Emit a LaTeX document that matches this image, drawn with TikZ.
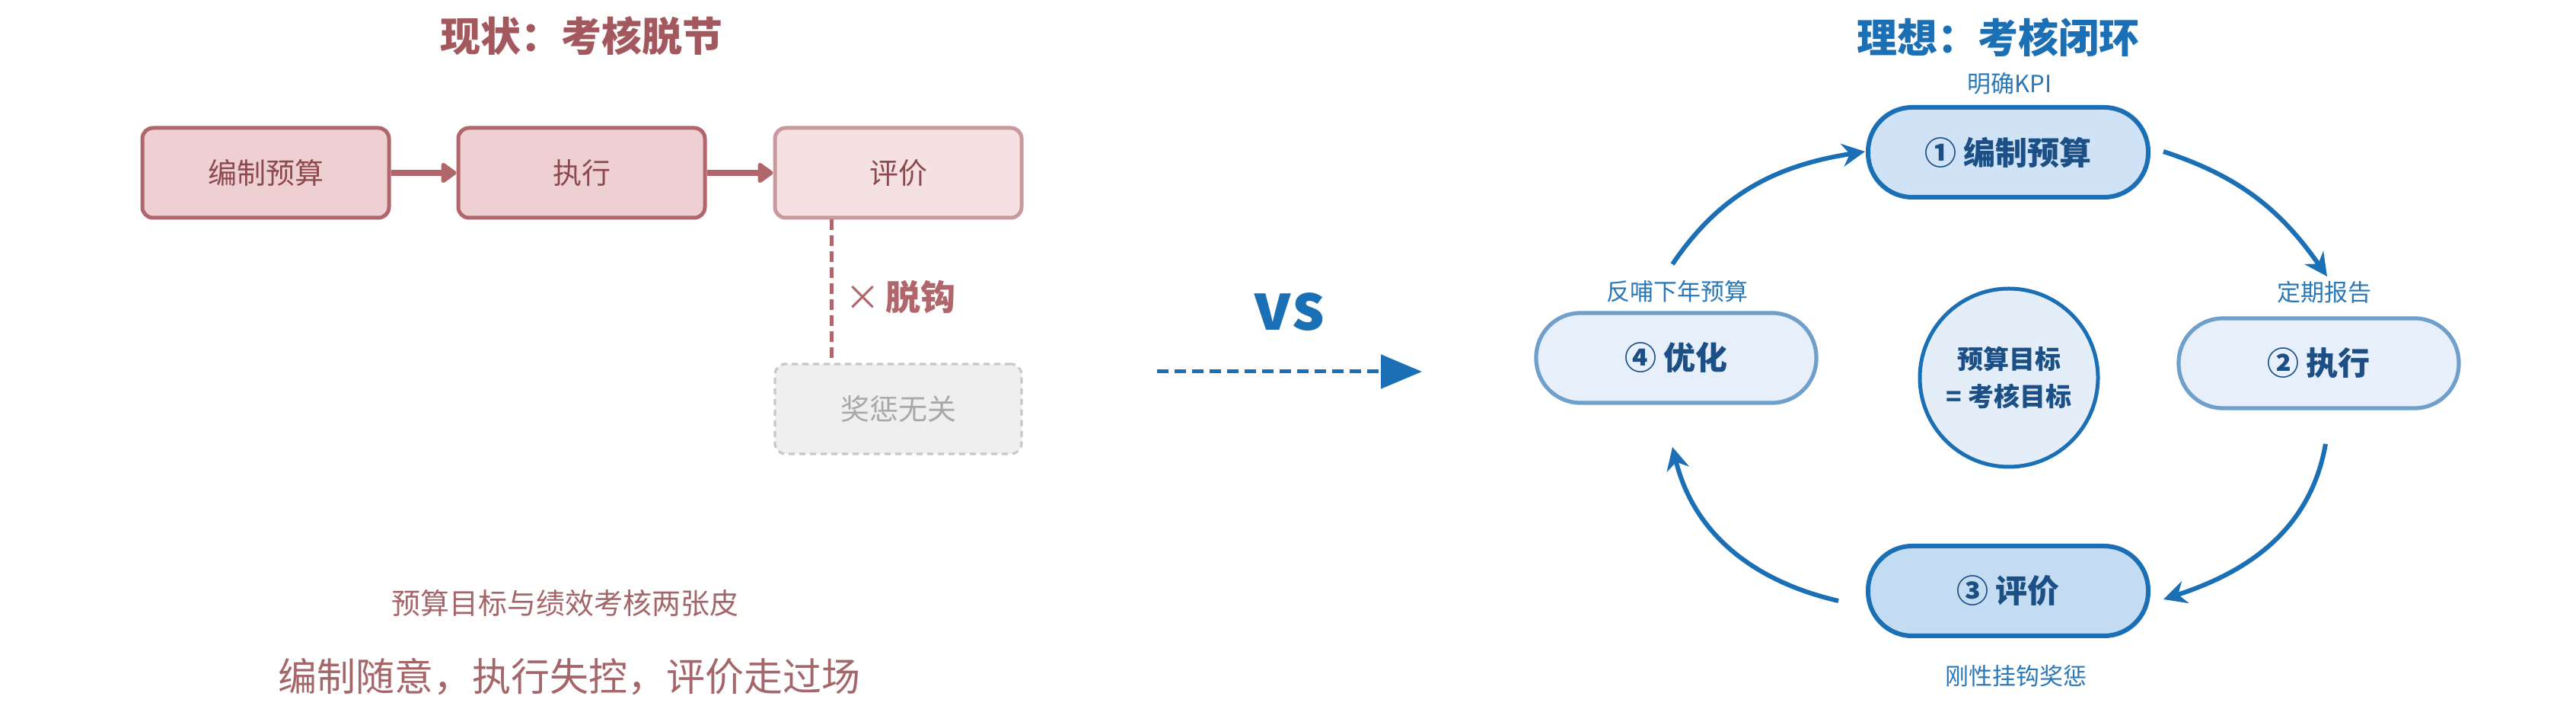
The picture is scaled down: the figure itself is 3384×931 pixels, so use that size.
\documentclass[tikz,border=0pt]{standalone}
\usepackage{fontspec}
\setmainfont{Noto Sans CJK SC}
\usetikzlibrary{arrows.meta,calc}
\definecolor{roseD}{HTML}{B0666B}
\definecolor{roseF}{HTML}{EFD0D2}
\definecolor{roseL}{HTML}{C99A9D}
\definecolor{roseLF}{HTML}{F6E1E2}
\definecolor{roseT}{HTML}{8C4A4F}
\definecolor{roseTitle}{HTML}{A3585D}
\definecolor{roseSub}{HTML}{A5666A}
\definecolor{grayF}{HTML}{EFEFEF}
\definecolor{grayB}{HTML}{C8C8C8}
\definecolor{grayT}{HTML}{A8A8A8}
\definecolor{blueM}{HTML}{1A6FB5}
\definecolor{blueL}{HTML}{6FA0CC}
\definecolor{fillA}{HTML}{D0E2F5}
\definecolor{fillB}{HTML}{E7EFFA}
\definecolor{fillC}{HTML}{C4DCF1}
\definecolor{circF}{HTML}{E4EEF9}
\definecolor{navy}{HTML}{1B4F85}
\definecolor{lblue}{HTML}{2A78B8}
\begin{document}
\begin{tikzpicture}[x=0.5pt,y=0.5pt,
  lbox/.style={draw=roseD, fill=roseF, line width=2.5pt, rounded corners=7pt,
    minimum width=162pt, minimum height=59pt, inner sep=0pt, text=roseT,
    font=\fontsize{19}{23}\selectfont},
  pill/.style={rounded corners=29pt, minimum width=184pt, minimum height=59pt,
    inner sep=0pt, text=navy, font=\bfseries\fontsize{21}{25}\selectfont},
  strongpill/.style={pill, draw=blueM, line width=3pt},
  softpill/.style={pill, draw=blueL, line width=2.6pt, fill=fillB},
  larrow/.style={draw=roseD, line width=4pt, -{Triangle[length=11pt,width=15pt,round]}},
  carrow/.style={draw=blueM, line width=3pt, -{Stealth[length=15pt,width=15pt]}},
  smalllbl/.style={text=lblue, font=\fontsize{15.5}{18}\selectfont},
  titlefont/.style={font=\bfseries\fontsize{26.5}{30}\selectfont}
]
\useasboundingbox (0,0) rectangle (3384,931);
\fill[white] (0,0) rectangle (3384,931);

% ---------- left: current state ----------
\node[titlefont, text=roseTitle] (t1) at (764,884) {现状：考核脱节};
\node[lbox] (b1) at (349,704) {编制预算};
\node[lbox] (b2) at (764,704) {执行};
\node[lbox, fill=roseLF, draw=roseL] (b3) at (1180,704) {评价};
\node[lbox, fill=grayF, draw=grayB, line width=1.6pt, dash pattern=on 4pt off 3pt, text=grayT] (b4) at (1180,394) {奖惩无关};
\draw[larrow] (b1) -- (b2);
\draw[larrow] (b2) -- (b3);
\coordinate (d1) at ([xshift=-44pt]b3.south);
\coordinate (d2) at ([xshift=-44pt]b4.north);
\draw[roseD, line width=2.5pt, dash pattern=on 7pt off 3.5pt] (d1) -- (d2);
\node[anchor=west, text=roseD, font=\fontsize{23}{27}\selectfont] (tg) at (1103,541) {×\,\textbf{脱钩}};
\node[text=roseSub, font=\fontsize{19}{23}\selectfont] (s1) at (742,139) {预算目标与绩效考核两张皮};
\node[text=roseSub, font=\fontsize{25.5}{30}\selectfont] (s2) at (748,42) {编制随意，执行失控，评价走过场};

% ---------- middle ----------
\node[text=blueM, font=\bfseries\fontsize{42}{46}\selectfont] (vs) at (1693,521) {vs};
\coordinate (va) at (1520,443);
\coordinate (vb) at (1868,443);
\draw[blueM, line width=2.5pt, dash pattern=on 7.5pt off 4pt, -{Triangle[length=27pt,width=22pt]}] (va) -- (vb);

% ---------- right: ideal ----------
\node[titlefont, text=blueM] (t2) at (2625,882) {理想：考核闭环};
\node[strongpill, fill=fillA] (n1) at (2638,731) {① 编制预算};
\node[softpill] (n2) at (3046,454) {② 执行};
\node[strongpill, fill=fillC] (n3) at (2638,155) {③ 评价};
\node[softpill] (n4) at (2202,461) {④ 优化};
\node[circle, draw=blueM, fill=circF, line width=2.5pt, minimum size=117pt, inner sep=0pt,
      align=center, text=navy, font=\bfseries\fontsize{17}{24.5}\selectfont] (c) at (2639,435) {预算目标\\= 考核目标};
\node[smalllbl] (kpi) at (2640,821) {明确KPI};
\node[smalllbl] (l2) at (3053,547) {定期报告};
\node[smalllbl] (l3) at (2648,43) {刚性挂钩奖惩};
\node[smalllbl] (l4) at (2203,548) {反哺下年预算};

\coordinate (a1s) at (2842,732);
\coordinate (a1e) at (3057,568);
\coordinate (a2s) at (3055,348);
\coordinate (a2e) at (2842,144);
\coordinate (a3s) at (2415,142);
\coordinate (a3e) at (2197,344);
\coordinate (a4s) at (2197,584);
\coordinate (a4e) at (2450,732);
\draw[carrow] (a1s) to[out=-18,in=125] (a1e);
\draw[carrow] (a2s) to[out=-100,in=18] (a2e);
\draw[carrow] (a3s) to[out=167,in=-76] (a3e);
\draw[carrow] (a4s) to[out=56,in=189] (a4e);
\end{tikzpicture}
\end{document}
